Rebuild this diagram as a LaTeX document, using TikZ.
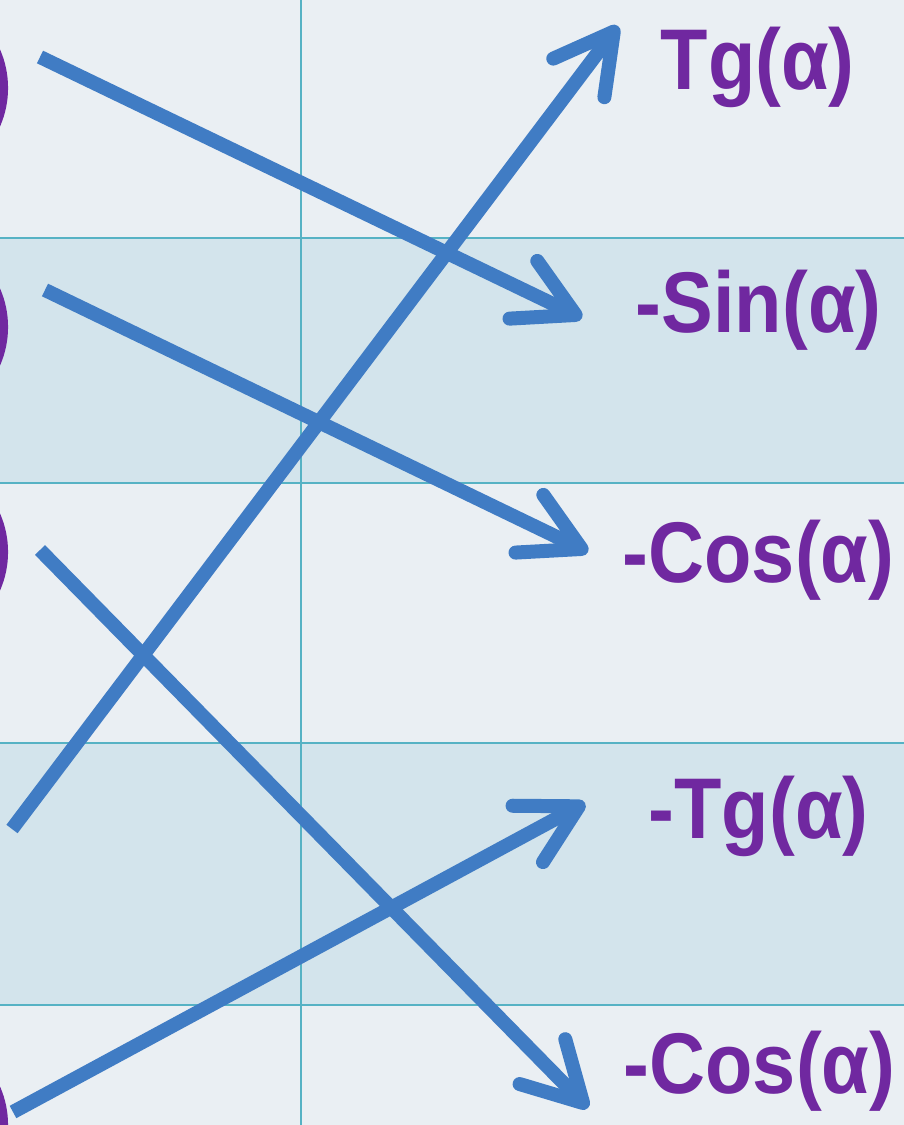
\documentclass[tikz,border=0pt]{standalone}
\usepackage{fontspec}
\setmainfont{Liberation Sans}
\newfontfamily\lblfont[FakeStretch=0.9]{Liberation Sans}
\usepackage{tikz}
\usetikzlibrary{arrows.meta}
\definecolor{paleBg}{RGB}{234,239,243}
\definecolor{rowBlue}{RGB}{211,228,236}
\definecolor{gridTeal}{RGB}{86,178,196}
\definecolor{arrowBlue}{RGB}{64,124,196}
\definecolor{trigPurple}{RGB}{112,40,160}

\begin{document}
\begin{tikzpicture}[x=0.01cm, y=-0.01cm,
  lbl/.style={anchor=base west, inner sep=0pt, text=trigPurple,
              font=\lblfont\fontsize{24.5}{29}\selectfont\bfseries},
  gridline/.style={draw=gridTeal, line width=0.02cm},
  arrow/.style={-{Straight Barb[length=0.58cm, width=0.64cm, round]},
                line width=0.14cm, draw=arrowBlue}
]
\useasboundingbox (0,0) rectangle (904,1125);
\clip (0,0) rectangle (904,1125);
% Background and shaded rows
\fill[paleBg] (0,0) rectangle (904,1125);
\fill[rowBlue] (0,238) rectangle (904,483);
\fill[rowBlue] (0,743) rectangle (904,1005);
% Grid
\foreach \y in {238,483,743,1005}
  \draw[gridline] (0,\y) -- (904,\y);
\draw[gridline] (301,0) -- (301,1125);

% Circles cut off at the left edge
\foreach \y in {88,327,552,1125}
  \fill[trigPurple] (-88,\y) circle (0.96cm);

% Right column
\node[lbl] (tg) at (660,90) {Tg(α)};
\node[lbl] (msin) at (635,333) {-Sin(α)};
\node[lbl] (mcos) at (622,582) {-Cos(α)};
\node[lbl] (mtg) at (648,838) {-Tg(α)};
\node[lbl] (mcosb) at (623,1093) {-Cos(α)};

% Arrow ends
\coordinate (s1) at (40,57);
\coordinate (s2) at (45,290);
\coordinate (s3) at (40,550);
\coordinate (s4) at (12,829);
\coordinate (s5) at (13,1112);
\coordinate (e1) at (582,318);
\coordinate (e2) at (588,552);
\coordinate (e3) at (588,1108);
\coordinate (e4) at (618,26);
\coordinate (e5) at (585,803);

\draw[arrow] (s1) -- (e1);
\draw[arrow] (s2) -- (e2);
\draw[arrow] (s3) -- (e3);
\draw[arrow] (s4) -- (e4);
\draw[arrow] (s5) -- (e5);

\end{tikzpicture}
\end{document}
